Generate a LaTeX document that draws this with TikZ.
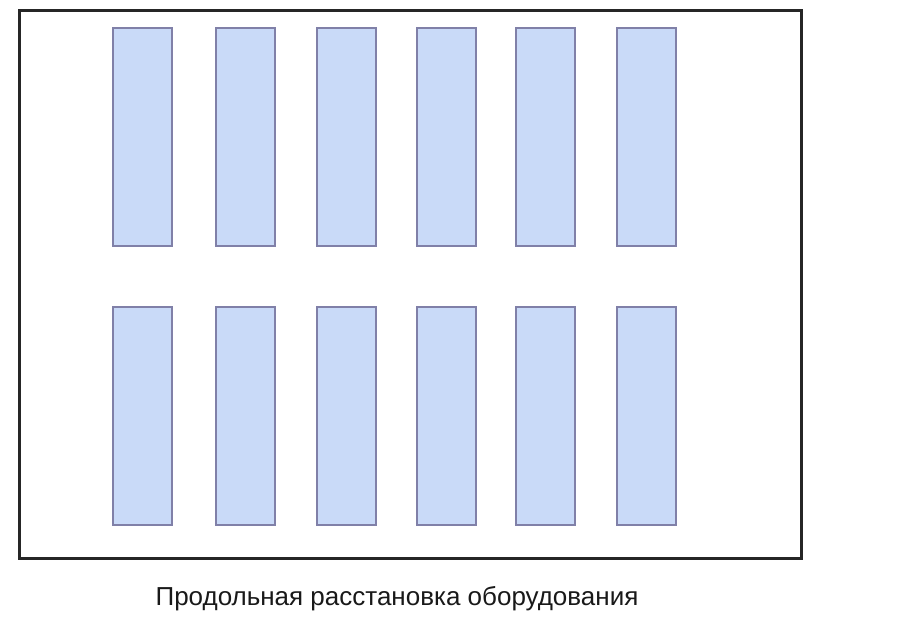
\documentclass[tikz,border=0pt]{standalone}
\usepackage{fontspec}
\setmainfont{Liberation Sans}
\usetikzlibrary{positioning}
\definecolor{machfill}{RGB}{201,218,248}
\definecolor{machdraw}{RGB}{128,128,168}
\begin{document}
\begin{tikzpicture}[x=1pt, y=-1pt,
  machine/.style={draw=machdraw, fill=machfill, line width=2pt,
    minimum width=59pt, minimum height=218pt, inner sep=0pt},
  hall/.style={draw=black!85, line width=2.4pt}]
  \useasboundingbox (0,0) rectangle (900,640);

  % hal
  \draw[hall] (19.5,10.5) rectangle (801.5,558.5);

  % machines, twee rijen
  \foreach \x [count=\k] in {142,245.5,346,446,545.5,646.5}{
    \node[machine] (top\k) at (\x,137) {};
    \node[machine] (bot\k) at (\x,415.5) {};
  }

  % onderschrift
  \node[anchor=base, font=\fontsize{26}{30}\selectfont, text=black!90] (caption) at (397,605) {Продольная расстановка оборудования};
\end{tikzpicture}
\end{document}
